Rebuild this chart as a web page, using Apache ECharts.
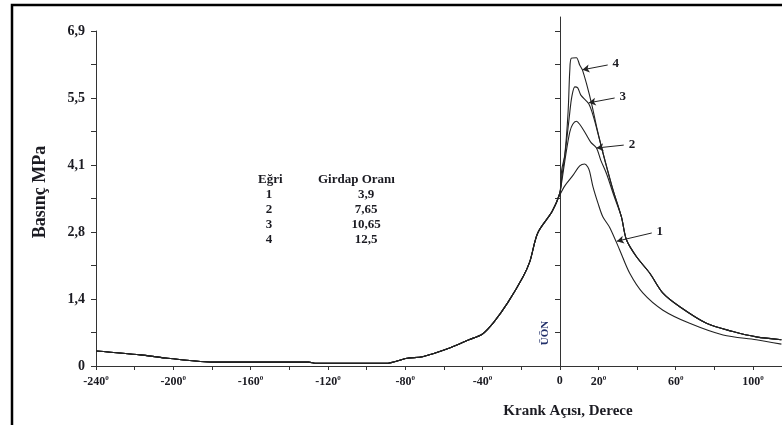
<!DOCTYPE html>
<html lang="tr">
<head>
<meta charset="UTF-8">
<title>Basınç - Krank Açısı</title>
<style>
  html, body { margin: 0; padding: 0; background: #fff; }
  #chart { width: 782px; height: 425px; }
</style>
</head>
<body>
<div id="chart"></div>
<script src="https://cdn.jsdelivr.net/npm/echarts@6/dist/echarts.min.js"></script>
<script>
// ortak sıkıştırma eğrisi (tüm eğriler için aynı)
var compressionDeg = [-240, -217, -204, -178, -130, -126, -90, -79, -71, -57, -47, -40, -34, -27, -19, -15.5, -11.4, -4];
var compressionP   = [0.31, 0.23, 0.165, 0.08, 0.08, 0.055, 0.055, 0.16, 0.19, 0.37, 0.54, 0.66, 0.91, 1.30, 1.84, 2.15, 2.74, 3.18];

// yanma bölgesi, ÜÖN sonrası
var curve1Deg = [0, 2.6, 6.9, 10.3, 12.9, 14.5, 15.5, 17.2, 19.8, 22.2, 25.9, 31.0, 36.2, 43.1, 53.4, 67.2, 84.5, 101.7, 114.7];
var curve1P   = [3.52, 3.71, 3.93, 4.12, 4.16, 4.10, 4.00, 3.69, 3.35, 3.08, 2.85, 2.39, 1.91, 1.50, 1.15, 0.88, 0.64, 0.54, 0.45];
var curve2Deg = [0, 1.0, 3.1, 5.2, 6.7, 8.6, 10.3, 12.9, 16.0, 19.0, 21.2, 24.3, 27.9];
var curve2P   = [3.56, 3.79, 4.35, 4.82, 4.98, 5.04, 4.98, 4.82, 4.61, 4.49, 4.24, 3.95, 3.52];
var curve3Deg = [0, 1.0, 3.1, 5.2, 6.2, 7.8, 9.3, 10.9, 15.0, 17.6, 20.2, 23.3, 26.9];
var curve3P   = [3.56, 3.87, 4.49, 5.23, 5.54, 5.75, 5.73, 5.58, 5.40, 5.11, 4.72, 4.24, 3.71];
var curve4Deg = [0, 1.0, 2.6, 4.3, 5.2, 6.0, 8.6, 10.3, 11.7, 14.0, 16.6, 19.1, 21.7, 24.3, 27.9];
var curve4P   = [3.56, 4.04, 4.35, 5.23, 6.10, 6.34, 6.35, 6.20, 6.10, 5.79, 5.38, 4.92, 4.49, 4.10, 3.58];
// 2, 3 ve 4 numaralı eğrilerin birleşik genleşme kısmı
var tailDeg = [31.9, 34.5, 39.7, 46.6, 53.4, 62.1, 75.9, 89.6, 101.7, 114.7];
var tailP   = [3.07, 2.60, 2.25, 1.91, 1.50, 1.22, 0.88, 0.71, 0.60, 0.54];

// eğri tablosu
var curveNames  = ['1', '2', '3', '4'];
var swirlRatios = ['3,9', '7,65', '10,65', '12,5'];

// eksen etiketleri
var xTicks = [-240, -220, -200, -180, -160, -140, -120, -100, -80, -60, -40, -20, 0, 20, 40, 60, 80, 100];
var xLabelValues = [-240, -200, -160, -120, -80, -40, 0, 20, 60, 100];
var yTicks = [0, 0.69, 1.38, 2.07, 2.76, 3.45, 4.14, 4.83, 5.52, 6.21, 6.9];
var yLabelValues = [0, 1.38, 2.76, 4.14, 5.52, 6.9];
var yLabels = ['0', '1,4', '2,8', '4,1', '5,5', '6,9'];

// ok işaretleri (kuyruk -> uç), veri koordinatında
var arrowTails = [[47.6, 2.74], [33.1, 4.55], [28.4, 5.52], [24.8, 6.20]];
var arrowTips  = [[29.5, 2.57], [19.0, 4.49], [15.0, 5.42], [11.7, 6.10]];

function zip(xs, ys) {
    var res = [];
    for (var i = 0; i < xs.length; i++) res.push([xs[i], ys[i]]);
    return res;
}
var compression = zip(compressionDeg, compressionP);
var tail = zip(tailDeg, tailP);
var curveData = [
    compression.concat(zip(curve1Deg, curve1P)),
    compression.concat(zip(curve2Deg, curve2P), tail),
    compression.concat(zip(curve3Deg, curve3P), tail),
    compression.concat(zip(curve4Deg, curve4P), tail)
];

var serif = '"Liberation Serif", "Times New Roman", serif';
var ink = '#1b1b22';

var series = curveData.map(function (d, i) {
    return {
        name: curveNames[i],
        type: 'line',
        data: d,
        symbol: 'none',
        smooth: 0.3,
        lineStyle: { color: '#222', width: 1.1 },
        markLine: {
            silent: true,
            symbol: ['none', 'arrow'],
            symbolSize: [6, 7],
            lineStyle: { color: '#222', width: 1, type: 'solid' },
            label: {
                show: true,
                position: 'start',
                distance: 5,
                formatter: curveNames[i],
                fontFamily: serif,
                fontWeight: 'bold',
                fontSize: 13,
                color: ink
            },
            data: [[{ coord: arrowTails[i] }, { coord: arrowTips[i] }]]
        }
    };
});

// ÜÖN dikey ekseni için boş seri (biraz daha yukarı uzanıyor)
series.push({
    type: 'line',
    xAxisIndex: 1,
    yAxisIndex: 1,
    data: [],
    silent: true
});

var tableFont = 'bold 13px ' + serif;
var tableTexts = [
    { type: 'text', left: 258, top: 173, style: { text: 'Eğri', font: tableFont, fill: ink } },
    { type: 'text', left: 318, top: 173, style: { text: 'Girdap Oranı', font: tableFont, fill: ink } }
];
curveNames.forEach(function (n, i) {
    var y = 195 + i * 15;
    tableTexts.push({ type: 'text', x: 269, y: y, style: { text: n, font: tableFont, fill: ink, align: 'center', verticalAlign: 'middle' } });
    tableTexts.push({ type: 'text', x: 366, y: y, style: { text: swirlRatios[i], font: tableFont, fill: ink, align: 'center', verticalAlign: 'middle' } });
});

var chart = echarts.init(document.getElementById('chart'));
chart.setOption({
    animation: false,
    backgroundColor: '#fff',
    grid: [
        { left: 96, right: 0, top: 31, bottom: 59 },
        { left: 560, width: 1, top: 17, bottom: 59 }
    ],
    xAxis: [
        {
            type: 'value',
            min: -240,
            max: 115,
            splitLine: { show: false },
            axisLine: { lineStyle: { color: '#333', width: 1 } },
            axisTick: { customValues: xTicks, length: 4, lineStyle: { color: '#333' } },
            axisLabel: {
                customValues: xLabelValues,
                margin: 9,
                fontFamily: serif,
                fontWeight: 'bold',
                fontSize: 12,
                color: ink,
                formatter: function (v) { return v === 0 ? '0' : v + '{s|0}'; },
                rich: {
                    s: { fontFamily: serif, fontWeight: 'bold', fontSize: 7, color: ink, padding: [0, 0, 6, 0] }
                }
            }
        },
        { type: 'value', gridIndex: 1, min: 0, max: 1, show: false }
    ],
    yAxis: [
        {
            type: 'value',
            min: 0,
            max: 6.9,
            splitLine: { show: false },
            axisLine: { show: true, onZero: false, lineStyle: { color: '#333', width: 1 } },
            axisTick: { show: true, customValues: yTicks, length: 5, lineStyle: { color: '#333' } },
            axisLabel: {
                customValues: yLabelValues,
                margin: 11,
                fontFamily: serif,
                fontWeight: 'bold',
                fontSize: 14,
                color: ink,
                formatter: function (v) {
                    for (var i = 0; i < yLabelValues.length; i++) {
                        if (Math.abs(yLabelValues[i] - v) < 1e-6) return yLabels[i];
                    }
                    return '';
                }
            }
        },
        {
            type: 'value',
            gridIndex: 1,
            position: 'left',
            min: 0,
            max: 7.19,
            splitLine: { show: false },
            axisLine: { show: true, onZero: false, lineStyle: { color: '#333', width: 1 } },
            axisTick: { show: true, customValues: yTicks.slice(1), length: 5, lineStyle: { color: '#333' } },
            axisLabel: { show: false }
        }
    ],
    series: series,
    graphic: [
        {
            type: 'polyline',
            silent: true,
            shape: { points: [[12, 425], [12, 5], [782, 5]] },
            style: { stroke: '#000', lineWidth: 2.5, fill: null }
        },
        {
            type: 'text',
            x: 40, y: 192,
            rotation: Math.PI / 2,
            style: { text: 'Basınç MPa', font: 'bold 18px ' + serif, fill: ink, align: 'center', verticalAlign: 'middle' }
        },
        {
            type: 'text',
            x: 568, y: 411,
            style: { text: 'Krank Açısı, Derece', font: 'bold 15px ' + serif, fill: ink, align: 'center', verticalAlign: 'middle' }
        },
        {
            type: 'text',
            x: 545, y: 333,
            rotation: Math.PI / 2,
            style: { text: 'ÜÖN', font: 'bold 11px ' + serif, fill: '#22306a', align: 'center', verticalAlign: 'middle' }
        }
    ].concat(tableTexts)
});
</script>
</body>
</html>
